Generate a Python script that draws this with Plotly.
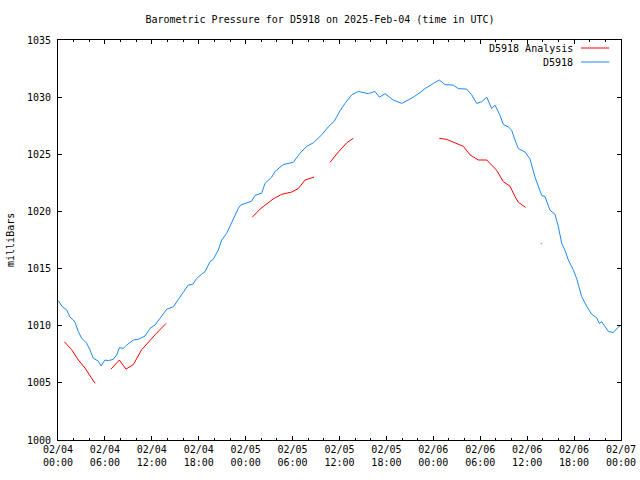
import pandas as pd
import plotly.graph_objects as go

start = pd.Timestamp("2025-02-04 00:00")

# D5918 observations: hours since 2025-02-04 00:00 UTC, pressure (mb)
blue_hours = [0.04, 0.55, 1.11, 1.53, 1.96, 2.17, 2.60, 3.03, 3.67, 4.09, 4.51, 5.15, 5.50,
              6.01, 6.43, 7.07, 7.51, 7.84, 8.35, 8.79, 9.63, 10.27, 11.13, 11.77, 12.41,
              13.26, 13.90, 14.75, 15.18, 15.82, 16.24, 16.66, 17.23, 17.74, 18.38, 18.80,
              19.44, 19.86, 20.50, 20.94, 21.57, 22.00, 22.64, 23.06, 23.37, 23.91, 24.47,
              24.77, 25.19, 26.05, 26.47, 27.33, 27.75, 28.81, 30.09, 30.95, 31.81, 32.65,
              33.72, 34.57, 35.34, 36.06, 36.70, 37.56, 38.40, 39.04, 39.68, 40.54, 41.09,
              41.82, 42.88, 43.96, 44.80, 45.44, 46.30, 46.93, 48.00, 48.76, 49.49, 50.55,
              51.19, 52.27, 52.91, 53.55, 54.19, 54.83, 55.46, 55.89, 56.53, 56.95, 57.59,
              58.02, 58.44, 58.87, 59.72, 60.36, 61.00, 61.86, 62.28, 62.92, 63.56, 63.98,
              64.42, 64.84, 65.26, 65.90, 66.34, 66.97, 67.61, 68.25, 68.89, 69.22, 69.53,
              69.95, 70.38, 71.01, 71.53, 72.00]
blue_mb = [1012.19, 1011.66, 1011.38, 1010.76, 1010.50, 1010.30, 1009.48, 1008.90, 1008.46,
           1007.88, 1007.15, 1006.91, 1006.48, 1007.00, 1006.94, 1007.06, 1007.44, 1008.08,
           1008.02, 1008.31, 1008.75, 1008.81, 1009.10, 1009.77, 1010.06, 1010.79, 1011.44,
           1011.66, 1012.10, 1012.69, 1013.21, 1013.56, 1013.62, 1014.14, 1014.52, 1014.72,
           1015.60, 1015.81, 1016.63, 1017.50, 1018.08, 1018.72, 1019.54, 1020.27, 1020.56,
           1020.71, 1020.86, 1020.90, 1021.40, 1021.60, 1022.45, 1023.00, 1023.50, 1024.10,
           1024.30, 1025.10, 1025.70, 1026.00, 1026.70, 1027.40, 1027.90, 1028.80, 1029.45,
           1030.20, 1030.50, 1030.40, 1030.30, 1030.50, 1030.00, 1030.30, 1029.75, 1029.45,
           1029.75, 1030.00, 1030.40, 1030.75, 1031.20, 1031.50, 1031.10, 1031.05, 1030.75,
           1030.70, 1030.20, 1029.45, 1029.60, 1030.00, 1029.00, 1029.30, 1028.40, 1027.60,
           1027.40, 1027.10, 1026.25, 1025.50, 1025.20, 1024.60, 1023.00, 1021.40, 1021.30,
           1020.10, 1019.75, 1018.70, 1017.20, 1016.60, 1015.75, 1014.90, 1014.10, 1012.55,
           1011.70, 1011.00, 1010.70, 1010.20, 1010.35, 1009.90, 1009.50, 1009.40, 1009.80,
           1010.06]

# D5918 Analysis: hours since start (None = gap), pressure (mb)
red_hours = [0.81, 1.75, 2.60, 3.45, 4.31, 4.73, None,
             6.78, 7.84, 8.70, 9.63, 10.70, 11.55, 12.41, 13.81, None,
             24.85, 25.83, 27.53, 28.61, 29.89, 30.73, 31.59, 32.74, None,
             34.79, 35.85, 36.92, 37.77, None,
             48.76, 49.71, 50.77, 51.83, 52.69, 53.75, 54.83, 56.10, 56.95, 57.81,
             58.44, 58.87, 59.81, None,
             61.81]
red_mb = [1008.6, 1007.9, 1007.0, 1006.3, 1005.4, 1004.96, None,
          1006.2, 1007.0, 1006.2, 1006.6, 1007.9, 1008.5, 1009.2, 1010.2, None,
          1019.5, 1020.2, 1021.1, 1021.5, 1021.7, 1022.0, 1022.75, 1023.0, None,
          1024.3, 1025.2, 1026.0, 1026.4, None,
          1026.4, 1026.3, 1026.0, 1025.7, 1024.95, 1024.5, 1024.5, 1023.6, 1022.6,
          1022.2, 1021.3, 1020.8, 1020.35, None,
          1017.2]

def to_time(hours):
    return [None if h is None else start + pd.Timedelta(hours=h) for h in hours]

RED = "#ff0000"
BLUE = "#1E88F0"
FONT = "DejaVu Sans Mono"

fig = go.Figure()
# isolated point gets a tiny marker so it is visible
red_sizes = [0] * len(red_hours)
red_sizes[-1] = 2
fig.add_trace(go.Scatter(x=to_time(red_hours), y=red_mb, mode="lines+markers",
                         line=dict(color=RED, width=1), marker=dict(size=red_sizes, color=RED),
                         connectgaps=False, showlegend=False, name="D5918 Analysis"))
fig.add_trace(go.Scatter(x=to_time(blue_hours), y=blue_mb, mode="lines",
                         line=dict(color=BLUE, width=1), showlegend=False, name="D5918"))

axis_common = dict(showline=True, linecolor="black", linewidth=1, mirror="allticks",
                   ticks="inside", tickcolor="black", showgrid=False, zeroline=False,
                   automargin=False,
                   tickfont=dict(family=FONT, size=10, color="black"))

fig.update_xaxes(type="date", range=[start, start + pd.Timedelta(hours=72)],
                 dtick=6 * 3600 * 1000, tick0=start, tickformat="%m/%d<br>%H:%M", ticklen=4,
                 minor=dict(dtick=2 * 3600 * 1000, tick0=start, ticks="inside", ticklen=2,
                            tickcolor="black", showgrid=False),
                 **axis_common)
fig.update_yaxes(range=[1000, 1035], dtick=5, tick0=1000, ticklen=4, ticklabelstandoff=4,
                 **axis_common)

# legend (gnuplot style: text then line sample)
legend_items = [("D5918 Analysis", RED, 0.98), ("D5918", BLUE, 0.945)]
for label, col, yy in legend_items:
    fig.add_annotation(x=0.918, y=yy, xref="paper", yref="paper", text=label,
                       showarrow=False, xanchor="right", yanchor="middle",
                       font=dict(family=FONT, size=10, color="black"))
    fig.add_shape(type="line", xref="paper", yref="paper", x0=0.929, x1=0.979, y0=yy, y1=yy,
                  line=dict(color=col, width=1))

fig.add_annotation(x=-0.0853, y=0.5, xref="paper", yref="paper", text="milliBars",
                   textangle=-90, showarrow=False, xanchor="center", yanchor="middle",
                   font=dict(family=FONT, size=10, color="black"))

fig.update_layout(
    width=640, height=480,
    margin=dict(l=58, r=19, t=40, b=40),
    paper_bgcolor="white", plot_bgcolor="white",
    title=dict(text="Barometric Pressure for D5918 on 2025-Feb-04 (time in UTC)",
               x=0.5, xanchor="center", y=1 - 19 / 480, yanchor="middle", yref="container",
               font=dict(family=FONT, size=10, color="black")),
    showlegend=False,
)

# remove the browser's default page margin so the figure sits at the window origin
fig.write_html("out.html", config={"displayModeBar": False},
               post_script="document.body.style.margin='0';")
